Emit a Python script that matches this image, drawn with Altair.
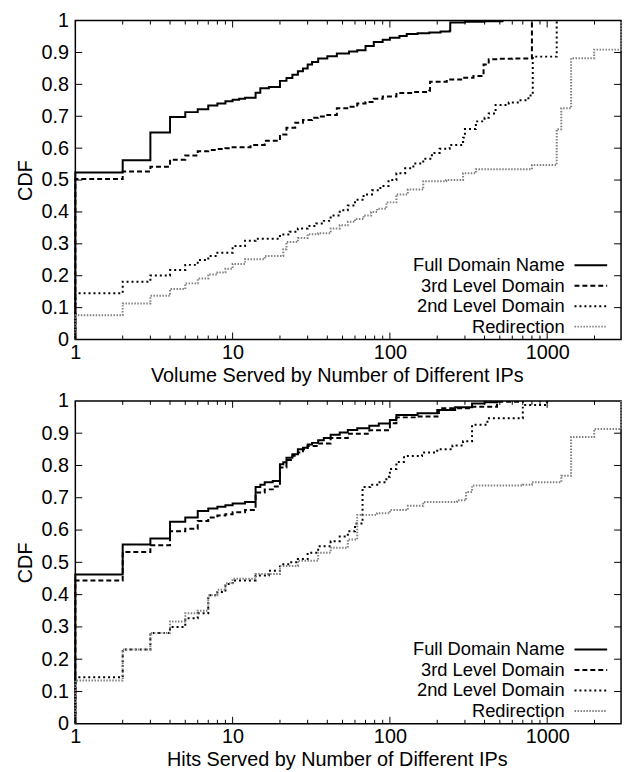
import altair as alt
import pandas as pd

SERIES = ["Full Domain Name", "3rd Level Domain", "2nd Level Domain", "Redirection"]
COLORS = ["#000000", "#000000", "#000000", "#808080"]
DASHES = [[1, 0], [5, 3], [2, 3], [1.5, 1.5]]

XMAX = 2950

# ---------------- Top panel: Volume ----------------
top_full_x = [1, 1, 2, 3, 4, 5, 6, 7, 8, 9, 10, 11, 12, 14, 15, 17, 20, 22, 24, 26, 28, 30, 32, 35, 40, 46,
              55, 62, 70, 79, 90, 100, 115, 128, 150, 178, 210, 240, 242, 300, 400, 520]
top_full_y = [0, 0.524, 0.562, 0.649, 0.698, 0.713, 0.722, 0.734, 0.740, 0.747, 0.752, 0.755, 0.758, 0.774,
              0.788, 0.792, 0.811, 0.82, 0.83, 0.841, 0.85, 0.862, 0.87, 0.881, 0.888, 0.897, 0.903, 0.907,
              0.92, 0.933, 0.94, 0.946, 0.952, 0.958, 0.96, 0.963, 0.966, 0.968, 0.994, 0.996, 0.998, 1.0]

top_3rd_x = [1, 1, 2, 3, 4, 5, 6, 7, 8, 9, 10, 13, 16, 20, 22, 25, 28, 32, 35, 40, 46, 55, 62, 70, 79, 90,
             110, 140, 178, 180, 230, 292, 340, 390, 394, 425, 500, 600, 800, 800]
top_3rd_y = [0, 0.503, 0.527, 0.542, 0.564, 0.577, 0.59, 0.594, 0.597, 0.6, 0.603, 0.61, 0.623, 0.643, 0.664,
             0.68, 0.688, 0.695, 0.699, 0.704, 0.725, 0.73, 0.74, 0.745, 0.755, 0.762, 0.773, 0.776, 0.78,
             0.808, 0.815, 0.821, 0.826, 0.831, 0.862, 0.879, 0.88, 0.881, 0.881, 1.0]

top_2nd_x = [1, 1, 2, 3, 4, 5, 6, 7, 8, 10, 12, 14, 20, 23, 26, 30, 34, 38, 42, 48, 54, 60, 68, 77, 87, 98,
             110, 125, 141, 163, 185, 207, 240, 292, 300, 352, 400, 425, 470, 570, 650, 760, 810, 1150]
top_2nd_y = [0, 0.145, 0.181, 0.201, 0.218, 0.234, 0.249, 0.262, 0.272, 0.293, 0.31, 0.316, 0.329, 0.338,
             0.348, 0.356, 0.364, 0.372, 0.389, 0.405, 0.42, 0.438, 0.455, 0.468, 0.481, 0.5, 0.521, 0.537,
             0.552, 0.567, 0.585, 0.598, 0.61, 0.633, 0.66, 0.684, 0.695, 0.709, 0.735, 0.743, 0.75, 0.765,
             0.887, 1.0]

top_red_x = [1, 1, 2, 3, 4, 5, 6, 7, 8, 9, 10, 12, 16, 21, 22, 26, 30, 35, 42, 48, 54, 60, 68, 76, 83, 95,
             110, 130, 163, 228, 292, 352, 800, 1150, 1230, 1420, 1990, 2950]
top_red_y = [0, 0.076, 0.113, 0.137, 0.158, 0.176, 0.191, 0.204, 0.21, 0.222, 0.237, 0.252, 0.262, 0.283,
             0.306, 0.318, 0.33, 0.333, 0.348, 0.358, 0.369, 0.378, 0.389, 0.40, 0.41, 0.43, 0.455, 0.47,
             0.496, 0.5, 0.521, 0.534, 0.547, 0.659, 0.725, 0.882, 0.909, 1.0]

# ---------------- Bottom panel: Hits ----------------
bot_full_x = [1, 1, 2, 3, 4, 5, 6, 7, 8, 9, 10, 12, 14, 15, 16, 18, 20, 21, 22, 24, 26, 28, 30, 32, 35, 38,
              42, 48, 54, 62, 74, 85, 100, 110, 150, 200, 260, 333, 400, 480]
bot_full_y = [0, 0.462, 0.555, 0.574, 0.626, 0.639, 0.659, 0.667, 0.672, 0.677, 0.682, 0.687, 0.733, 0.74,
              0.748, 0.752, 0.804, 0.81, 0.824, 0.835, 0.85, 0.855, 0.865, 0.87, 0.878, 0.885, 0.895, 0.902,
              0.91, 0.915, 0.923, 0.93, 0.941, 0.956, 0.962, 0.972, 0.98, 0.992, 0.996, 1.0]

bot_3rd_x = [1, 1, 2, 3, 4, 5, 6, 7, 8, 9, 10, 12, 14, 16, 18, 20, 22, 24, 26, 28, 30, 35, 42, 54, 74, 100,
             110, 150, 205, 333, 480, 700]
bot_3rd_y = [0, 0.444, 0.532, 0.553, 0.596, 0.604, 0.628, 0.639, 0.645, 0.649, 0.655, 0.662, 0.716, 0.726,
             0.735, 0.794, 0.817, 0.83, 0.84, 0.85, 0.86, 0.868, 0.885, 0.898, 0.909, 0.931, 0.949, 0.952,
             0.977, 0.982, 0.997, 1.0]

bot_2nd_x = [1, 1, 2, 3, 4, 5, 6, 7, 8, 9, 10, 14, 17, 20, 23, 26, 30, 35, 42, 48, 54, 60, 67, 75, 83, 95,
             100, 110, 123, 160, 200, 250, 292, 333, 417, 700, 1000]
bot_2nd_y = [0, 0.144, 0.23, 0.281, 0.30, 0.327, 0.342, 0.398, 0.408, 0.433, 0.444, 0.459, 0.474, 0.494,
             0.50, 0.51, 0.53, 0.55, 0.565, 0.58, 0.596, 0.62, 0.733, 0.74, 0.748, 0.765, 0.789, 0.811, 0.829,
             0.84, 0.85, 0.862, 0.875, 0.926, 0.946, 0.987, 1.0]

bot_red_x = [1, 1, 2, 3, 4, 5, 6, 7, 8, 9, 10, 14, 20, 26, 35, 42, 54, 62, 83, 100, 130, 163, 267, 305, 333,
             700, 800, 1230, 1420, 1990, 2950]
bot_red_y = [0, 0.134, 0.23, 0.281, 0.317, 0.342, 0.35, 0.398, 0.415, 0.435, 0.449, 0.464, 0.489, 0.505,
             0.53, 0.545, 0.571, 0.647, 0.652, 0.662, 0.675, 0.687, 0.692, 0.718, 0.738, 0.74, 0.748, 0.768,
             0.888, 0.913, 1.0]

# ticks
x_major = [1, 10, 100, 1000]
x_minor = [2, 3, 4, 5, 6, 7, 8, 9, 20, 30, 40, 50, 60, 70, 80, 90,
           200, 300, 400, 500, 600, 700, 800, 900, 2000]
y_major = [0, 0.1, 0.2, 0.3, 0.4, 0.5, 0.6, 0.7, 0.8, 0.9, 1]

FONT = "Liberation Sans"
W = 551


def panel(series_xy, xtitle, H, title_y):
    rows = []
    for s, (xs, ys) in zip(SERIES, series_xy):
        for i, (a, b) in enumerate(zip(xs, ys)):
            rows.append({"series": s, "x": a, "cdf": b, "i": i})
    df = pd.DataFrame(rows)

    xscale = alt.Scale(type="log", domain=[1, XMAX], nice=False)
    yscale = alt.Scale(domain=[0, 1], nice=False, zero=False)
    xaxis = alt.Axis(values=x_major, format="d", title=xtitle, labelPadding=3,
                     titleX=264, titleY=title_y, labelFlush=False)
    yaxis = alt.Axis(values=y_major, format="~g", title="CDF", labelPadding=7, titlePadding=5)

    lines = alt.Chart(df).mark_line(interpolate="step-after", strokeWidth=2).encode(
        x=alt.X("x:Q", scale=xscale, axis=xaxis),
        y=alt.Y("cdf:Q", scale=yscale, axis=yaxis),
        color=alt.Color("series:N", scale=alt.Scale(domain=SERIES, range=COLORS), legend=None),
        strokeDash=alt.StrokeDash("series:N", scale=alt.Scale(domain=SERIES, range=DASHES), legend=None),
        order=alt.Order("i:Q"),
    )

    layers = [lines]
    # x ticks (inward, bottom and top)
    for vals, ln in ((x_major, 7), (x_minor, 4)):
        tdf = pd.DataFrame({"v": vals})
        for y0, y1 in ((H, H - ln), (0, ln)):
            layers.append(alt.Chart(tdf).mark_rule(color="black", strokeWidth=1).encode(
                x=alt.X("v:Q", scale=xscale, axis=xaxis),
                y=alt.value(y0), y2=alt.value(y1)))
    # y ticks (inward, left and right)
    ydf = pd.DataFrame({"v": y_major[1:-1]})
    for x0, x1 in ((0, 7), (W - 7, W)):
        layers.append(alt.Chart(ydf).mark_rule(color="black", strokeWidth=1).encode(
            y=alt.Y("v:Q", scale=yscale, axis=yaxis),
            x=alt.value(x0), x2=alt.value(x1)))

    # key (inside plot, bottom right)
    row_off = [75, 54.3, 33.6, 13]
    for name, col, dash, off in zip(SERIES, COLORS, DASHES, row_off):
        ldf = pd.DataFrame({"label": [name]})
        ry = H - off
        layers.append(alt.Chart(ldf).mark_text(align="right", baseline="middle", font=FONT,
                                               fontSize=18.5, color="black").encode(
            text="label:N", x=alt.value(494), y=alt.value(ry)))
        layers.append(alt.Chart(ldf).mark_rule(color=col, strokeWidth=2, strokeDash=dash).encode(
            x=alt.value(504), x2=alt.value(537), y=alt.value(ry)))

    return alt.layer(*layers).properties(width=W, height=H)


top = panel([(top_full_x, top_full_y), (top_3rd_x, top_3rd_y), (top_2nd_x, top_2nd_y),
             (top_red_x, top_red_y)], "Volume Served by Number of Different IPs", 322, 26)
bottom = panel([(bot_full_x, bot_full_y), (bot_3rd_x, bot_3rd_y), (bot_2nd_x, bot_2nd_y),
                (bot_red_x, bot_red_y)], "Hits Served by Number of Different IPs", 326, 26)

chart = alt.vconcat(top, bottom, spacing=4).properties(
    padding={"left": 7, "top": -2, "right": 0, "bottom": 0},
    background="white",
).configure_view(stroke="black", strokeWidth=1.5).configure_axis(
    labelFont=FONT, titleFont=FONT, labelFontSize=20, titleFontSize=20,
    titleFontWeight="normal", labelColor="black", titleColor="black",
    ticks=False, domain=False, grid=False, labelOverlap=False,
)

chart.save("out.html", embed_options={"renderer": "svg", "actions": False})
